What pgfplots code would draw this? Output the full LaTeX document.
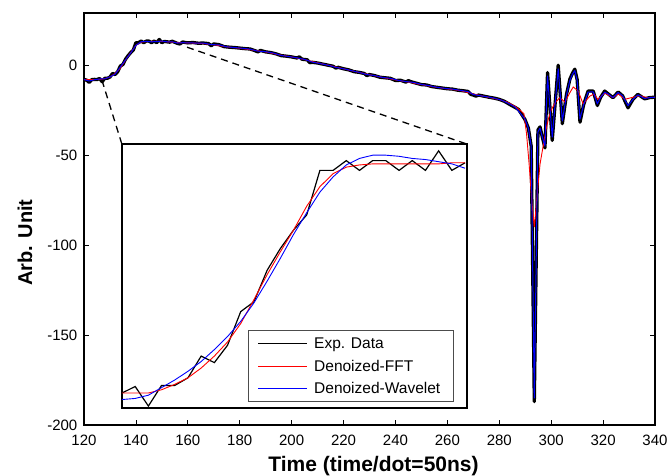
\documentclass[border=0pt]{standalone}
\usepackage{fontspec}
\setmainfont{Liberation Sans}
\usepackage{pgfplots}
\pgfplotsset{compat=1.18}

\begin{document}
\begin{tikzpicture}
\begin{axis}[
  name=main,
  scale only axis,
  width=571pt, height=412pt,
  xmin=120, xmax=340, ymin=-200, ymax=29,
  xtick={120,140,...,340},
  ytick={-200,-150,-100,-50,0},
  xticklabels={120,140,160,180,200,220,240,260,280,300,320,340},
  yticklabels={-200,-150,-100,-50,0},
  tick align=inside, xtick pos=both, ytick pos=both,
  major tick length=5pt,
  tick style={black, line width=0.8pt},
  axis line style={line width=1.2pt},
  ticklabel style={font=\fontsize{15}{18}\selectfont, inner sep=0pt},
  xticklabel style={anchor=north, yshift=-10pt},
  yticklabel style={anchor=east, xshift=-6.5pt},
  xlabel={Time (time/dot=50ns)},
  ylabel={Arb. Unit},
  xlabel style={font=\bfseries\fontsize{21}{25}\selectfont, at={(axis description cs:0.507,-0.1117)}, anchor=base},
  ylabel style={font=\bfseries\fontsize{20}{24}\selectfont, at={(axis description cs:-0.1033,0.443)}, anchor=center},
]
% experimental data
\addplot[draw=black, line width=3.3pt, line join=round] coordinates {
(120,-8.0) (121,-8.3) (122,-9.6) (123,-8.0) (124,-7.9) (125,-8.0) (126,-7.4) (127,-9.2)
(128,-7.3) (129,-7.3) (130,-6.6) (131,-4.6) (132,-5.2) (133,-3.6) (134,-0.5) (135,0.4)
(136,3.3) (137,5.3) (138,7.0) (139,8.4) (140,12.5) (141,12.5) (142,13.4) (143,12.5)
(144,13.4) (145,13.4) (146,12.5) (147,13.4) (148,12.5) (149,14.3) (150,12.5) (151,13.2)
(152,13.0) (153,12.8) (154,13.3) (155,12.7) (156,12.1) (157,11.8) (158,12.9) (159,12.6)
(160,12.4) (162,12.6) (164,12.2) (166,12.3) (168,12.0) (169,10.8) (170,11.8) (172,11.4)
(174,10.3) (176,10.0) (178,9.8) (180,9.5) (182,9.2) (184,9.0) (186,8.0) (187,7.4)
(188,8.2) (190,7.4) (192,7.0) (194,6.3) (196,5.3) (198,5.0) (200,4.6) (202,4.0)
(203,4.6) (204,3.3) (206,3.0) (207,1.4) (208,1.6) (210,1.2) (212,0.6) (214,0.0)
(216,-0.6) (217,-1.6) (218,-1.2) (220,-2.0) (222,-2.6) (224,-3.6) (226,-4.0) (228,-4.6)
(229,-5.8) (230,-5.2) (232,-5.8) (234,-6.7) (236,-7.0) (238,-7.3) (240,-8.5) (242,-8.4)
(244,-9.4) (245,-8.6) (246,-9.2) (248,-10.0) (250,-10.8) (252,-11.0) (254,-11.9) (256,-12.3)
(258,-12.7) (260,-13.1) (262,-13.3) (264,-13.9) (266,-14.2) (268,-14.6) (269,-16.2) (270,-16.6)
(271,-17.2) (272,-16.6) (274,-17.2) (276,-17.8) (278,-18.3) (280,-19.0) (282,-20.1) (284,-21.8)
(286,-23.4) (287.4,-24.6) (288.5,-27) (289.9,-30.2) (291.2,-34.9) (292.3,-45) (293.5,-187) (294.9,-36)
(295.7,-34.3) (296.6,-40) (297.6,-46) (298.6,-4.1) (300.4,-41.8) (302.7,0) (304.3,-32.5) (305.9,-16.2)
(307.2,-7.8) (308.2,-4.5) (309.1,-2.2) (310,-8) (311.1,-31.7) (312.5,-22) (314.2,-14.4) (316.2,-14.4)
(317.8,-22.4) (319,-18) (320.6,-14.4) (322,-16) (323.8,-18.1) (325.8,-14.9) (327.5,-17) (329.6,-23.7)
(331.5,-19) (333.4,-16.2) (336,-18.7) (338,-18) (340,-17.8)
};
% FFT denoised
\addplot[draw=red, line width=0.9pt] coordinates {
(120,-8.0) (122,-8.0) (124,-8.0) (126,-7.9) (128,-7.5) (130,-6.6) (132,-4.6) (134,-1.6)
(136,2.9) (138,7.0) (140,11.0) (142,12.8) (144,13.1) (146,13.2) (148,13.2) (150,13.2)
(152,13.0) (156,12.6) (160,12.4) (165,12.1) (170,11.3) (175,10.2) (180,9.4) (185,8.4)
(190,7.4) (195,5.8) (200,4.6) (205,3.1) (210,1.3) (215,-0.3) (220,-2.0) (225,-3.7)
(230,-5.3) (235,-6.8) (240,-8.2) (245,-9.4) (250,-10.8) (255,-12.1) (260,-13.2) (265,-14.1)
(270,-16.0) (275,-17.6) (280,-19.1) (283,-20.5) (286,-22.8) (288,-25.0) (289.5,-27)
(290.5,-38) (291.5,-55) (292.5,-75) (293.5,-90) (294.8,-69) (295.7,-55) (296.9,-45)
(298,-36) (298.9,-30) (300,-25) (301.5,-20.9) (303.3,-18.1) (305.3,-20.5) (307.2,-15.3)
(308.5,-12.1) (310.4,-14.4) (312.3,-21.5) (314.9,-17.2) (316.5,-16) (318,-19) (320.6,-15.5)
(323.8,-18) (326,-16) (328.3,-19) (331,-18) (334,-17) (337,-18) (340,-17.8)
};
% wavelet denoised
\addplot[draw=blue, line width=1.0pt, line join=round] coordinates {
(120,-8.0) (122,-8.8) (124,-8.1) (126,-7.7) (128,-7.6) (130,-6.5) (132,-5.0) (134,-1.0)
(136,3.0) (138,6.8) (140,11.0) (142,13.0) (144,13.2) (146,13.0) (148,13.1) (150,13.4)
(152,13.0) (154,13.0) (156,12.3) (158,12.5) (160,12.4) (163,12.3) (166,12.3) (169,11.4)
(172,11.3) (175,10.2) (178,9.8) (181,9.4) (184,8.9) (187,7.8) (190,7.5) (193,6.7)
(196,5.4) (199,4.8) (202,4.1) (205,3.2) (208,1.7) (211,0.9) (214,0.0) (217,-1.2)
(220,-2.0) (223,-3.0) (226,-4.0) (229,-5.2) (232,-5.8) (235,-6.8) (238,-7.3) (241,-8.4)
(244,-9.1) (247,-9.6) (250,-10.7) (253,-11.4) (256,-12.3) (259,-12.9) (262,-13.3) (265,-14.0)
(268,-14.7) (270,-16.3) (272,-16.8) (275,-17.5) (278,-18.3) (281,-19.5) (284,-21.6) (286,-23.2)
(287.4,-25.5) (289.9,-30) (291.2,-35) (292.3,-45) (293.5,-185) (294.9,-37) (295.7,-35) (296.6,-40)
(297.6,-45) (298.6,-6) (300.4,-40) (302.7,-2) (304.3,-31) (305.9,-16.5) (307.2,-8.5) (308.2,-5)
(309.1,-3) (310,-8.5) (311.1,-30) (312.5,-22) (314.2,-15) (316.2,-14.8) (317.8,-21.5) (319,-18)
(320.6,-15) (322,-16) (323.8,-18) (325.8,-15.2) (327.5,-17) (329.6,-22.5) (331.5,-19) (333.4,-16.5)
(336,-18.5) (338,-18) (340,-17.8)
};
\draw[black, line width=1.3pt, dash pattern=on 7pt off 5pt] (axis cs:126.9,-8.3) -- (axis cs:134.6,-43.9);
\draw[black, line width=1.3pt, dash pattern=on 7pt off 5pt] (axis cs:159.7,10) -- (axis cs:267.6,-43.9);
\end{axis}

% zoomed inset
\begin{axis}[
  at={(38pt,17pt)}, anchor=south west,
  scale only axis, width=345pt, height=264pt,
  xmin=125, xmax=151.15, ymin=-9.38, ymax=14.93,
  xtick=\empty, ytick=\empty,
  axis line style={line width=2pt},
  axis background/.style={fill=white},
]
\addplot[draw=black, line width=1.2pt] coordinates {
(125,-8.0) (126,-7.4) (127,-9.2) (128,-7.3) (129,-7.3) (130,-6.6) (131,-4.6) (132,-5.2)
(133,-3.6) (134,-0.5) (135,0.4) (136,3.3) (137,5.3) (138,7.0) (139,8.4) (140,12.5)
(141,12.5) (142,13.4) (143,12.5) (144,13.4) (145,13.4) (146,12.5) (147,13.4) (148,12.5)
(149,14.3) (150,12.5) (151,13.2)
};
\addplot[draw=red, line width=0.9pt] coordinates {
(125,-8.0) (126,-8.0) (127,-8.0) (128,-7.7) (129,-7.2) (130,-6.6) (131,-5.7) (132,-4.6)
(133,-3.3) (134,-1.6) (135,0.6) (136,2.9) (137,5.0) (138,7.0) (139,9.2) (140,11.0)
(141,12.2) (142,12.8) (143,13.0) (144,13.1) (145,13.1) (146,13.1) (147,13.1) (148,13.1)
(149,13.1) (150,13.2) (151,13.2)
};
\addplot[draw=blue, line width=0.9pt] coordinates {
(125,-8.6) (126,-8.5) (127,-8.2) (128,-7.5) (129,-6.8) (130,-6.0) (131,-5.1) (132,-4.0)
(133,-2.8) (134,-1.4) (135,0.3) (136,2.3) (137,4.4) (138,6.6) (139,8.6) (140,10.5)
(141,11.9) (142,13.0) (143,13.6) (144,13.9) (145,13.9) (146,13.8) (147,13.6) (148,13.5)
(149,13.3) (150,13.1) (151,12.7)
};
\end{axis}

% legend of the inset
\draw[black!70, line width=0.8pt, fill=white] (164pt,24pt) rectangle (369pt,95pt);
\draw[black, line width=1.2pt] (174pt,81.7pt) -- (222.7pt,81.7pt);
\draw[red, line width=0.9pt] (174pt,59pt) -- (222.7pt,59pt);
\draw[blue, line width=0.9pt] (174pt,36.7pt) -- (222.7pt,36.7pt);
\begin{scope}[every node/.style={anchor=base west, inner sep=0pt, font=\fontsize{15.5}{18}\selectfont}]
\node at (230pt,76.2pt) {Exp. Data};
\node at (230pt,53.5pt) {Denoized-FFT};
\node at (230pt,31.2pt) {Denoized-Wavelet};
\end{scope}

\pgfresetboundingbox
\path[use as bounding box] (-84pt,-50pt) rectangle (585pt,425pt);
\end{tikzpicture}
\end{document}
